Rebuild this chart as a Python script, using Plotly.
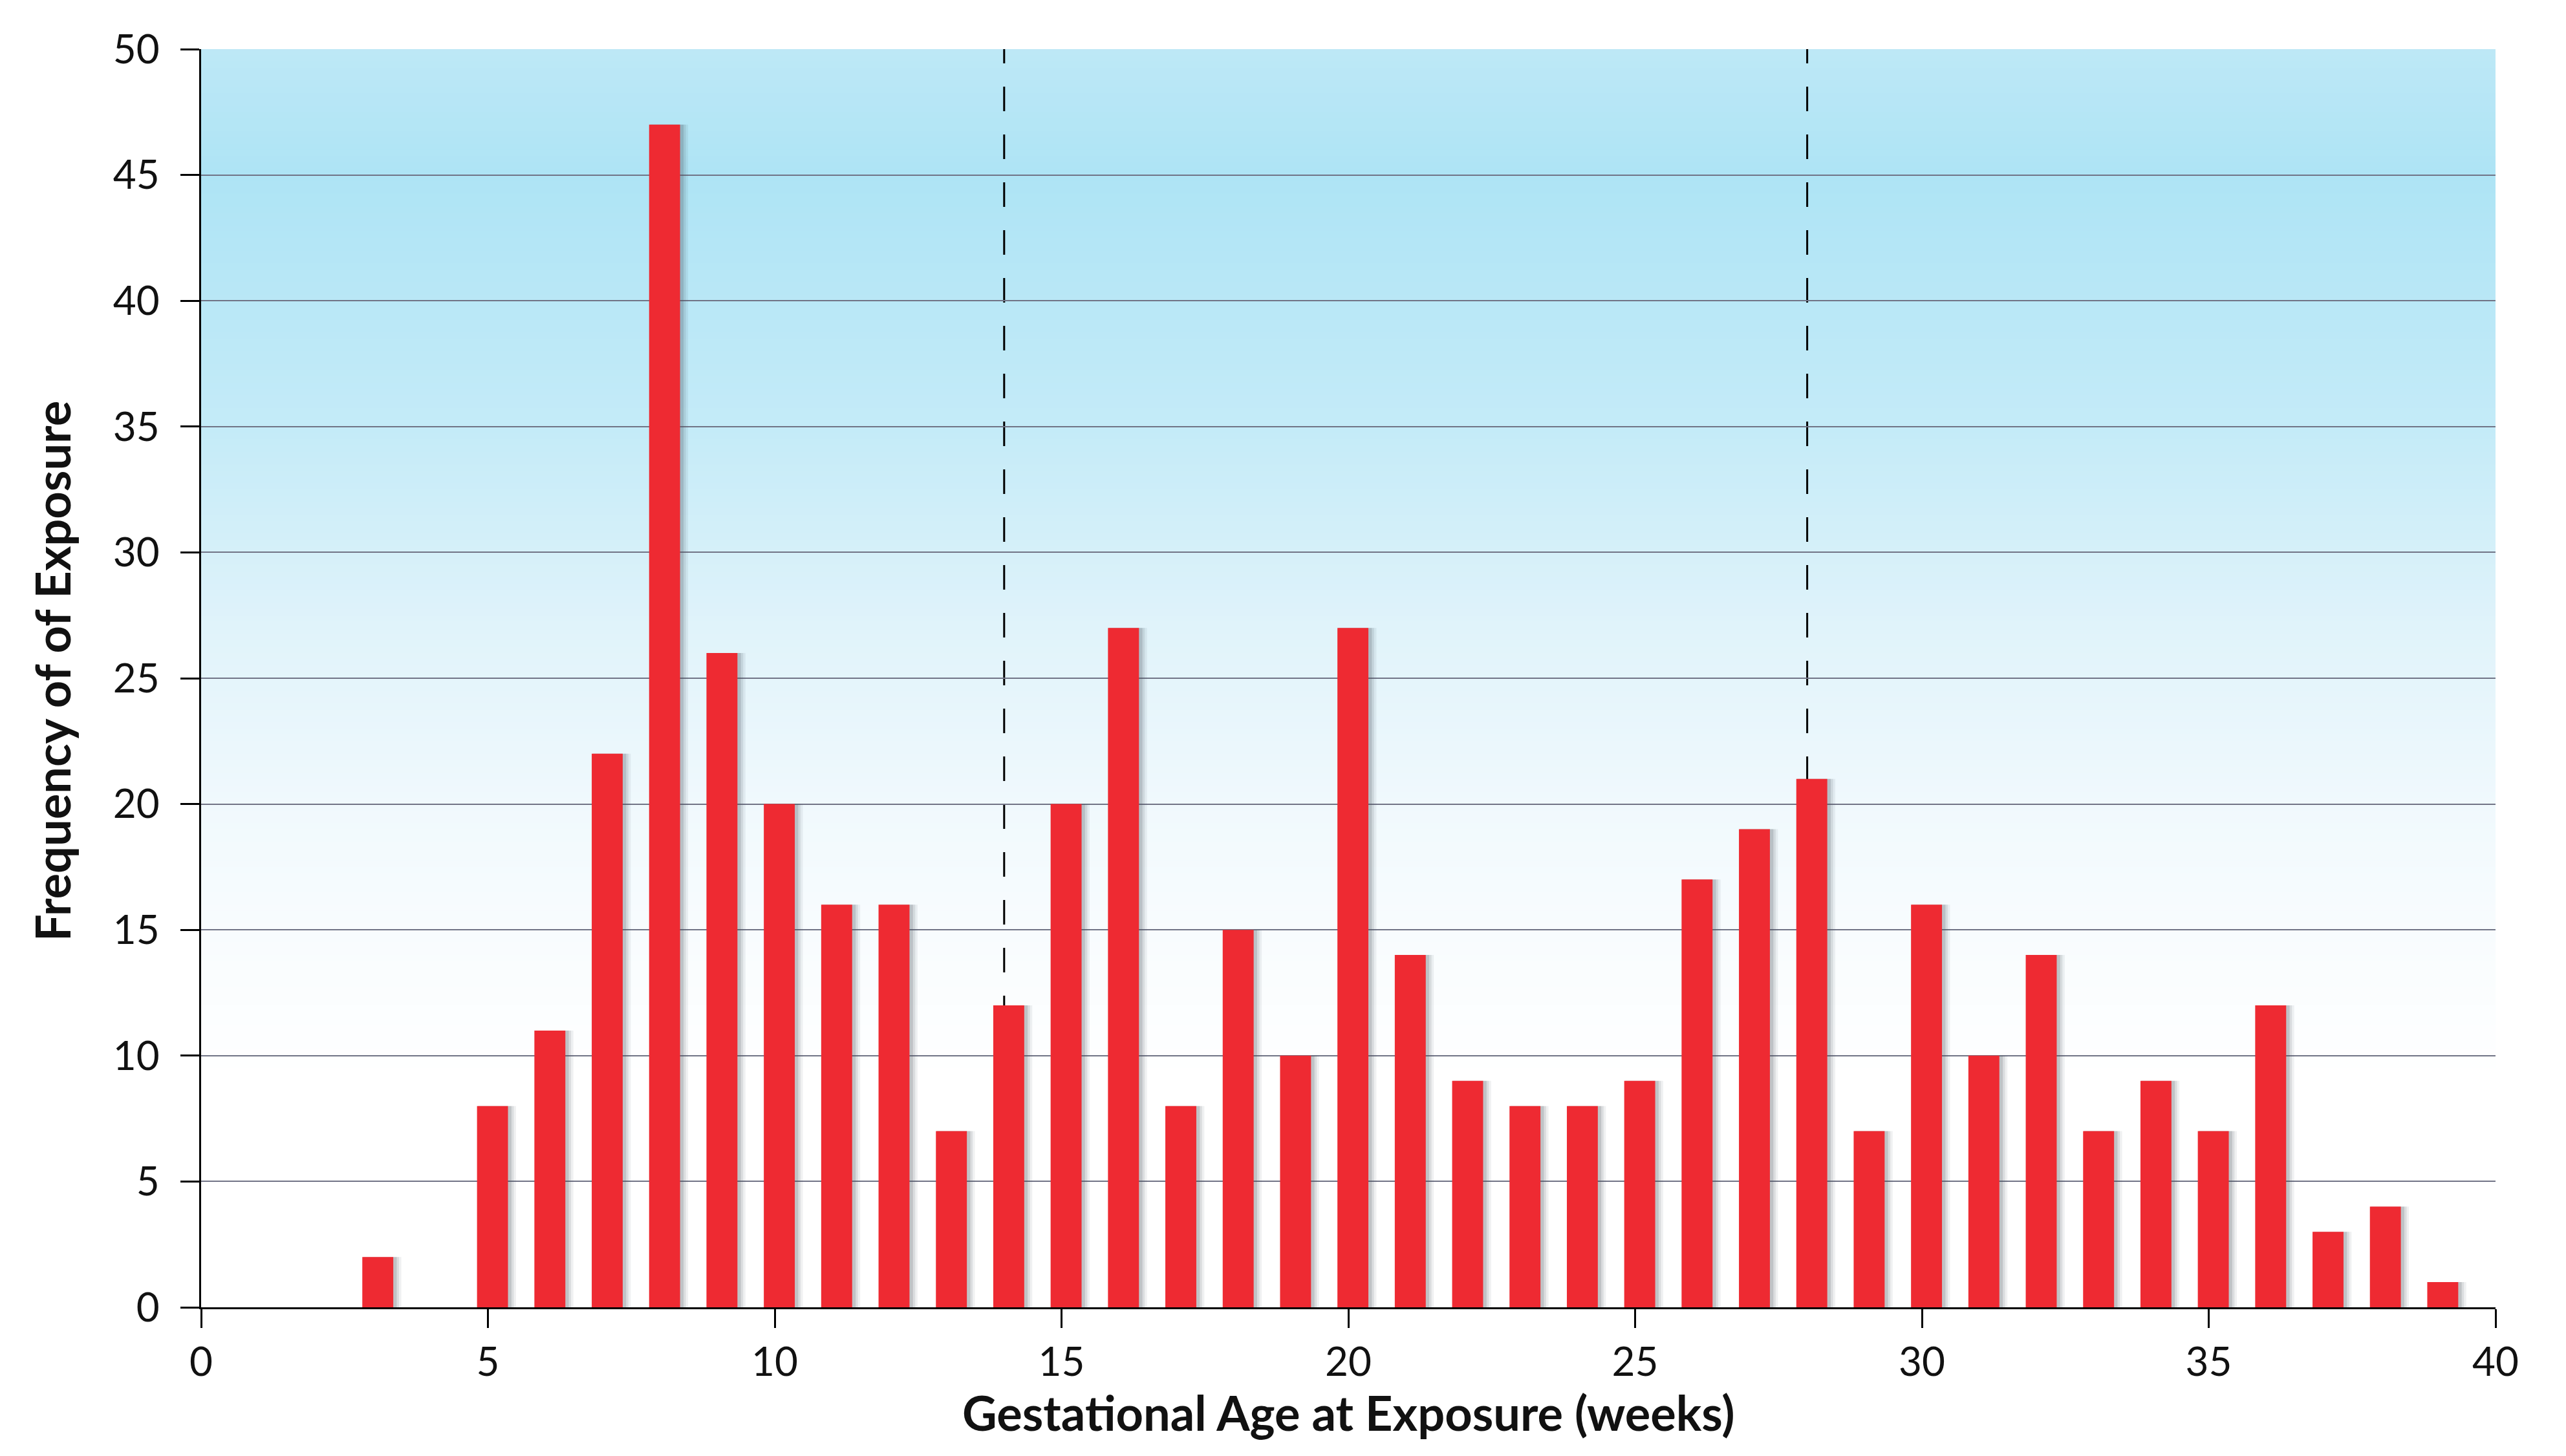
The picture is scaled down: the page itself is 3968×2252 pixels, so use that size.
import plotly.graph_objects as go

# ---- data ----
weeks = [3, 5, 6, 7, 8, 9, 10, 11, 12, 13, 14, 15, 16, 17, 18, 19, 20, 21, 22, 23, 24,
         25, 26, 27, 28, 29, 30, 31, 32, 33, 34, 35, 36, 37, 38, 39]
counts = [2, 8, 11, 22, 47, 26, 20, 16, 16, 7, 12, 20, 27, 8, 15, 10, 27, 14, 9, 8, 8,
          9, 17, 19, 21, 7, 16, 10, 14, 7, 9, 7, 12, 3, 4, 1]
trimester_bounds = [14, 28]
x_ticks = [0, 5, 10, 15, 20, 25, 30, 35, 40]
y_ticks = [0, 5, 10, 15, 20, 25, 30, 35, 40, 45, 50]

x_title = "Gestational Age at Exposure (weeks)"
y_title = "Frequency of of Exposure"

# ---- style ----
W, H = 3968, 2252
ML, MR, MT, MB = 303, 117, 68, 238
FONT = "Lato"
BAR_COLOR = "#EE2A32"
GRID_COLOR = "#717486"
TICK_SIZE = 62
TITLE_SIZE = 74

# gradient stops (value on y axis -> rgb)
grad_stops = [(50, (189, 232, 246)), (45, (174, 228, 245)), (35, (196, 235, 248)),
              (27, (224, 243, 250)), (20, (240, 249, 253)), (15, (248, 252, 254)),
              (9, (255, 255, 255)), (0, (255, 255, 255))]


def grad_color(v):
    for (v1, c1), (v2, c2) in zip(grad_stops[:-1], grad_stops[1:]):
        if v2 <= v <= v1:
            t = (v1 - v) / (v1 - v2) if v1 != v2 else 0
            c = [round(a + (b - a) * t) for a, b in zip(c1, c2)]
            return "rgb(%d,%d,%d)" % tuple(c)
    return "white"


shapes = []
n_bands = 200
for i in range(n_bands):
    y0 = 50 * i / n_bands
    y1 = 50 * (i + 1) / n_bands
    shapes.append(dict(type="rect", xref="x", yref="y", x0=0, x1=40, y0=y0, y1=y1 + 0.02,
                       fillcolor=grad_color((y0 + y1) / 2), line=dict(width=0), layer="below"))

for b in trimester_bounds:
    shapes.append(dict(type="line", xref="x", yref="y", x0=b, x1=b, y0=0, y1=50,
                       line=dict(color="black", width=3, dash="38px,36px"), layer="below"))

fig = go.Figure()

# soft drop shadows
fig.add_trace(go.Bar(x=weeks, y=counts, width=0.66, offset=-0.17,
                     marker=dict(color="rgba(70,80,90,0.08)", line=dict(width=0)),
                     hoverinfo="skip", showlegend=False))
fig.add_trace(go.Bar(x=weeks, y=counts, width=0.62, offset=-0.17,
                     marker=dict(color="rgba(70,80,90,0.12)", line=dict(width=0)),
                     hoverinfo="skip", showlegend=False))
fig.add_trace(go.Bar(x=weeks, y=counts, width=0.58, offset=-0.17,
                     marker=dict(color="rgba(70,80,90,0.18)", line=dict(width=0)),
                     hoverinfo="skip", showlegend=False))
# main bars
fig.add_trace(go.Bar(x=weeks, y=counts, width=0.54, offset=-0.19,
                     marker=dict(color=BAR_COLOR, line=dict(width=0)),
                     showlegend=False))

fig.update_layout(
    width=W, height=H,
    margin=dict(l=ML, r=MR, t=MT, b=MB),
    paper_bgcolor="white", plot_bgcolor="white",
    barmode="overlay",
    shapes=shapes,
    font=dict(family=FONT, color="#111111"),
    xaxis=dict(range=[0, 40], tickvals=x_ticks, ticktext=[str(v) for v in x_ticks],
               showgrid=False, zeroline=False,
               showline=True, linecolor="black", linewidth=3,
               ticks="outside", ticklen=29, tickwidth=3, tickcolor="black",
               ticklabelstandoff=0,
               tickfont=dict(size=TICK_SIZE, family=FONT, color="#111111")),
    yaxis=dict(range=[0, 50], tickvals=y_ticks, ticktext=[str(v) for v in y_ticks],
               showgrid=True, gridcolor=GRID_COLOR, gridwidth=2, zeroline=False,
               showline=True, linecolor="black", linewidth=3,
               ticks="outside", ticklen=29, tickwidth=3, tickcolor="black",
               ticklabelstandoff=20,
               tickfont=dict(size=TICK_SIZE, family=FONT, color="#111111")),
    annotations=[
        dict(text="<b>%s</b>" % x_title, xref="paper", yref="paper",
             x=0.5, y=-(2184 - 8 - (H - MB)) / (H - MT - MB), xanchor="center", yanchor="middle",
             showarrow=False, font=dict(size=TITLE_SIZE, family=FONT, color="#111111")),
        dict(text="<b>%s</b>" % y_title, xref="paper", yref="paper", textangle=-90,
             x=(80 - 8 - ML) / (W - ML - MR), y=((H - MB) - (1038 - 8)) / (H - MT - MB),
             xanchor="center", yanchor="middle",
             showarrow=False, font=dict(size=TITLE_SIZE, family=FONT, color="#111111")),
    ],
)

fig.write_html("out.html")
